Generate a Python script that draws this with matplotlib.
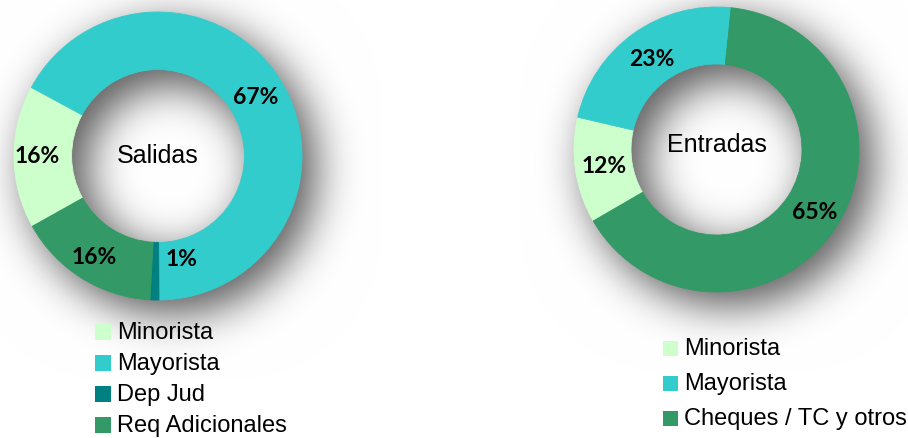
import numpy as np
import matplotlib.pyplot as plt
from matplotlib.patches import Rectangle

# --- datos ---
salidas_labels = ["Minorista", "Mayorista", "Dep Jud", "Req Adicionales"]
salidas_values = [16, 67, 1, 16]
salidas_colors = ["#CCFFCC", "#33CCCC", "#008080", "#339966"]

entradas_labels = ["Minorista", "Mayorista", "Cheques / TC y otros"]
entradas_values = [12, 23, 65]
entradas_colors = ["#CCFFCC", "#33CCCC", "#339966"]

W, H = 908, 438
LIM = 1.3
HOLE = 0.6
LABEL_FONT = "Lato"
TEXT_FONT = "Liberation Sans"

# centro y radio (px) de cada anillo
DONUTS = [(158, 156, 144), (716.5, 149.5, 142.5)]

fig = plt.figure(figsize=(W / 100, H / 100), dpi=100)
fig.patch.set_facecolor("white")


def shadow_image(off=(13, 13), sigma=22, strength=0.7):
    # sombra difusa de los anillos (efecto Excel), calculada en pixeles
    yy, xx = np.mgrid[0:H, 0:W] + 0.5
    mask = np.zeros((H, W))
    for cx, cy, rad in DONUTS:
        r = np.hypot(xx - cx - off[0], yy - cy - off[1])
        mask += ((r <= rad) & (r >= HOLE * rad)).astype(float)
    k = np.arange(-3 * sigma, 3 * sigma + 1)
    ker = np.exp(-k ** 2 / (2.0 * sigma ** 2))
    ker /= ker.sum()
    pad = 3 * sigma
    m = np.pad(mask, pad, mode="constant")
    m = np.apply_along_axis(lambda v: np.convolve(v, ker, mode="same"), 0, m)
    m = np.apply_along_axis(lambda v: np.convolve(v, ker, mode="same"), 1, m)
    m = m[pad:-pad, pad:-pad]
    g = 1.0 - strength * np.clip(m, 0, 1)
    return np.dstack([g, g, g])


fig.figimage(shadow_image(), xo=0, yo=0, origin="upper", zorder=-1)


def donut(cx, cy, rad, values, colors, start, title, nudge, title_dy=0.0):
    size = 2 * LIM * rad
    ax = fig.add_axes([(cx - size / 2) / W, (H - cy - size / 2) / H, size / W, size / H])
    ax.patch.set_alpha(0)
    wedges, _ = ax.pie(values, colors=colors, startangle=start, counterclock=False,
                       radius=1, wedgeprops=dict(width=1 - HOLE, linewidth=0.6))
    for w in wedges:
        w.set_edgecolor(w.get_facecolor())
        w.set_zorder(2)
    for i, (w, v) in enumerate(zip(wedges, values)):
        ang, r = nudge.get(i, (0, 0.81))
        mid = np.deg2rad((w.theta1 + w.theta2) / 2 + ang)
        ax.text(r * np.cos(mid), r * np.sin(mid), f"{v}%", ha="center", va="center",
                fontsize=16.5, fontweight="bold", family=LABEL_FONT, color="black", zorder=3)
    ax.text(0, title_dy, title, ha="center", va="center", fontsize=18,
            family=TEXT_FONT, color="black", zorder=3)
    ax.set_xlim(-LIM, LIM)
    ax.set_ylim(-LIM, LIM)
    ax.set_aspect("equal")
    ax.axis("off")
    return ax


def legend(x, y0, step, box, labels, colors, fontsize=17):
    for i, (lab, col) in enumerate(zip(labels, colors)):
        y = y0 + i * step
        fig.add_artist(Rectangle((x / W, 1 - (y + box / 2) / H), box / W, box / H,
                                 transform=fig.transFigure, facecolor=col, edgecolor="none",
                                 zorder=5))
        fig.text((x + box + 6) / W, 1 - (y + 1) / H, lab, ha="left", va="center",
                 fontsize=fontsize, family=TEXT_FONT, color="black", zorder=5)


(cx1, cy1, r1), (cx2, cy2, r2) = DONUTS
donut(cx1, cy1, r1, salidas_values, salidas_colors, 209.2, "Salidas",
      nudge={0: (0, 0.84), 1: (0, 0.79), 2: (14, 0.74), 3: (0, 0.83)})
donut(cx2, cy2, r2, entradas_values, entradas_colors, 210.1, "Entradas",
      nudge={0: (0, 0.80), 1: (0, 0.78), 2: (0, 0.82)}, title_dy=0.03)

legend(95, 332, 31, 16, salidas_labels, salidas_colors)
legend(663, 348, 35, 15, entradas_labels, entradas_colors)

fig.savefig("out.png", dpi=100, facecolor="white")
